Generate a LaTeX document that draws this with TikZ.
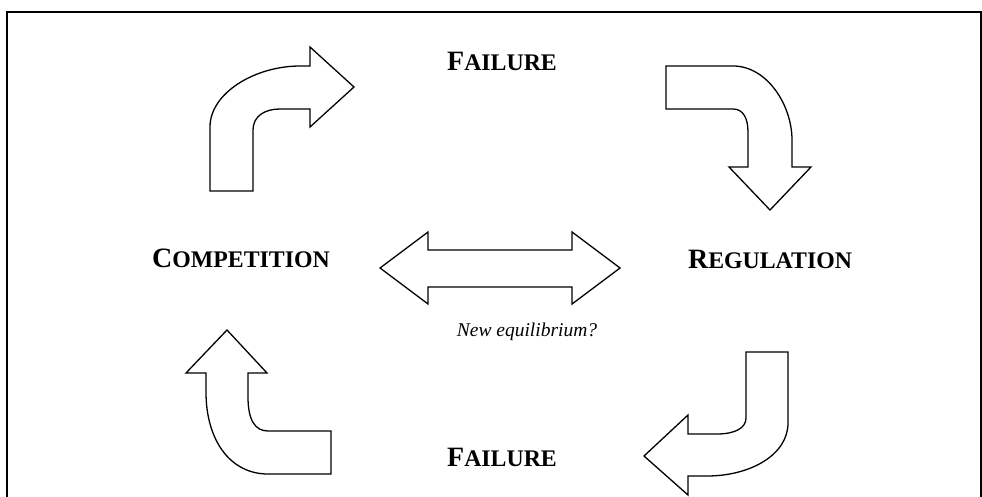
\documentclass[tikz,border=0pt]{standalone}
\usepackage{fontspec}
\setmainfont{Liberation Serif}
\newcommand{\fakesc}[2]{{\fontsize{28}{28}\selectfont #1}{\fontsize{23.8}{24}\selectfont #2}}
\begin{document}
\begin{tikzpicture}[
  x = 1pt, y = -1pt,
  bent/.style = {draw, line width = 1.3pt, fill = white, line join = miter},
  frame/.style = {draw, line width = 1.6pt},
  word/.style = {anchor = base, inner sep = 0pt, font = \bfseries},
  note/.style = {anchor = base, inner sep = 0pt, font = \fontsize{19.5}{20}\selectfont\itshape}
  ]
  \useasboundingbox (0,0) rectangle (982,497);
  \draw[frame] (7,497) -- (7,12) -- (981,12) -- (981,497);

  %labels
  \node[word] (failtop) at (502,71) {\fakesc{F}{AILURE}};
  \node[word] (comp) at (241,267) {\fakesc{C}{OMPETITION}};
  \node[word] (reg) at (770,268) {\fakesc{R}{EGULATION}};
  \node[word] (failbot) at (502,466) {\fakesc{F}{AILURE}};
  \node[note] (equil) at (527,336) {New equilibrium?};

  %top left arrow
  \draw[bent] (210,191) -- (210,127) .. controls (210,93) and (255,66) .. (300,66)
    -- (310,66) -- (310,47) -- (354,87) -- (310,127) -- (310,109) -- (280,109)
    .. controls (265,109) and (253,116) .. (253,130) -- (253,191) -- cycle;

  %top right arrow
  \draw[bent] (666,66) -- (733,66) .. controls (767,66) and (792,105) .. (792,140)
    -- (792,167) -- (811,167) -- (770,210) -- (729,167) -- (748,167) -- (748,132)
    .. controls (748,118) and (743,109) .. (733,109) -- (666,109) -- cycle;

  %double arrow
  \draw[bent] (380,268) -- (428,232) -- (428,250) -- (572,250) -- (572,232)
    -- (620,268) -- (572,304) -- (572,287) -- (428,287) -- (428,304) -- cycle;

  %bottom left arrow
  \draw[bent] (227,330) -- (267,373) -- (248,373) -- (248,397)
    .. controls (248,420) and (255,431) .. (268,431) -- (331,431) -- (331,474)
    -- (268,474) .. controls (230,474) and (206,440) .. (206,392) -- (206,373)
    -- (186,373) -- cycle;

  %bottom right arrow
  \draw[bent] (746,352) -- (788,352) -- (788,423) .. controls (788,455) and (750,476) .. (707,476)
    -- (688,476) -- (688,495) -- (644,456) -- (688,415) -- (688,434) -- (717,434)
    .. controls (735,434) and (746,428) .. (746,418) -- cycle;
\end{tikzpicture}
\end{document}
